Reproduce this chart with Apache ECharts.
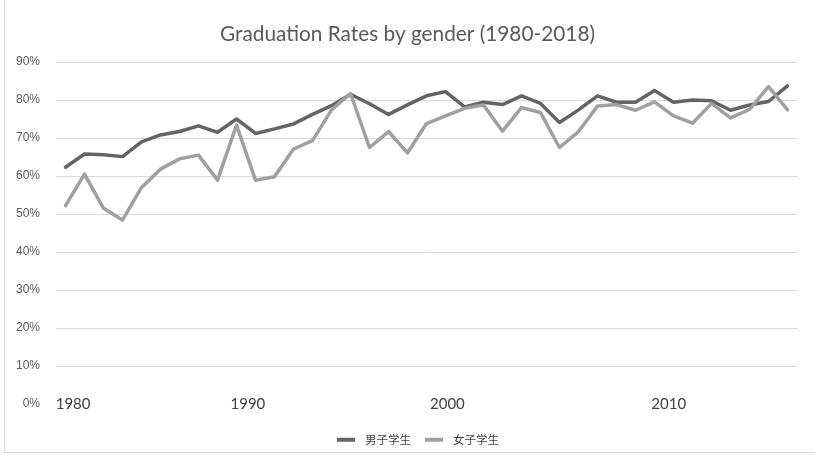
<!DOCTYPE html>
<html>
<head>
<meta charset="utf-8">
<script src="https://cdn.jsdelivr.net/npm/echarts@6/dist/echarts.min.js"></script>
<style>
  html, body { margin: 0; padding: 0; background: #ffffff; }
  #wrap { position: relative; width: 815px; height: 457px; }
  #chart { position: absolute; left: 0; top: 0; width: 815px; height: 457px; }
  #frame { position: absolute; left: 4px; top: -2px; width: 820px; height: 454px;
           border-left: 1px solid #d9d9d9; border-bottom: 1px solid #d9d9d9; pointer-events: none; }
</style>
</head>
<body>
<div id="wrap">
  <div id="chart"></div>
  <div id="frame"></div>
</div>
<script>
// ---- data ----
const years = [];
for (let y = 1980; y <= 2018; y++) years.push(String(y));

const maleRates = [
  62.3, 65.8, 65.6, 65.1, 69.0, 70.8, 71.7, 73.2, 71.5, 75.0,
  71.2, 72.4, 73.7, 76.2, 78.5, 81.5, 79.0, 76.2, 78.7, 81.1,
  82.2, 78.2, 79.4, 78.8, 81.1, 79.1, 74.1, 77.4, 81.1, 79.4,
  79.4, 82.5, 79.4, 80.0, 79.8, 77.3, 78.7, 79.6, 83.7
];
const femaleRates = [
  52.2, 60.5, 51.5, 48.4, 57.0, 61.8, 64.5, 65.5, 58.9, 73.4,
  58.9, 59.8, 67.1, 69.3, 77.4, 81.7, 67.5, 71.7, 66.1, 73.8,
  75.8, 77.8, 78.7, 71.8, 78.0, 76.7, 67.5, 71.7, 78.4, 78.8,
  77.3, 79.5, 75.8, 73.9, 79.1, 75.3, 77.5, 83.5, 77.4
];
const seriesNames = ['男子学生', '女子学生'];
const yTicks = [0, 10, 20, 30, 40, 50, 60, 70, 80, 90];
const xTickLabels = ['1980', '1990', '2000', '2010'];
// where the reference prints its decade labels along the year scale
const xLabelAnchors = [1980.4, 1989.6, 2000.1, 2011.75];

const chart = echarts.init(document.getElementById('chart'), null, { renderer: 'canvas' });

chart.setOption({
  backgroundColor: '#ffffff',
  animation: false,
  title: {
    text: 'Graduation Rates by gender (1980-2018)',
    left: 'center',
    top: 19,
    textStyle: { fontFamily: 'Lato', fontSize: 20.8, fontWeight: 'normal', color: '#595959' }
  },
  legend: {
    data: seriesNames,
    left: 332,
    top: 429,
    icon: 'rect',
    itemWidth: 18,
    itemHeight: 4,
    itemGap: 14,
    textStyle: { fontFamily: 'Noto Sans CJK SC', fontSize: 11.5, color: '#404040', padding: [0, 0, 0, 5] }
  },
  grid: { left: 56, right: 18, top: 62, bottom: 53, containLabel: false },
  xAxis: [
    {
      type: 'category',
      data: years,
      boundaryGap: true,
      axisLine: { show: false },
      axisTick: { show: false },
      axisLabel: { show: false },
      splitLine: { show: false }
    },
    {
      type: 'value',
      position: 'bottom',
      min: 1979.5,
      max: 2018.5,
      axisLine: { show: false },
      axisTick: { show: false },
      splitLine: { show: false },
      axisLabel: {
        customValues: xLabelAnchors,
        margin: 0,
        verticalAlign: 'middle',
        fontFamily: 'Lato',
        fontSize: 15,
        color: '#404040',
        formatter: function (v) {
          let best = 0, d = Infinity;
          xLabelAnchors.forEach(function (a, i) {
            if (Math.abs(a - v) < d) { d = Math.abs(a - v); best = i; }
          });
          return xTickLabels[best];
        }
      }
    }
  ],
  yAxis: {
    type: 'value',
    min: yTicks[0],
    max: yTicks[yTicks.length - 1],
    interval: 10,
    axisLine: { show: false },
    axisTick: { show: false },
    axisLabel: {
      margin: 16,
      fontFamily: 'Liberation Sans',
      fontSize: 12,
      color: '#595959',
      formatter: '{value}%'
    },
    splitLine: { show: true, showMinLine: false, lineStyle: { color: '#d9d9d9', width: 1 } }
  },
  series: [
    {
      name: seriesNames[0],
      type: 'line',
      xAxisIndex: 0,
      data: maleRates,
      symbol: 'none',
      smooth: false,
      itemStyle: { color: '#646464' },
      lineStyle: { color: '#646464', width: 3.5, cap: 'round', join: 'round' }
    },
    {
      name: seriesNames[1],
      type: 'line',
      xAxisIndex: 0,
      data: femaleRates,
      symbol: 'none',
      smooth: false,
      itemStyle: { color: '#a0a0a0' },
      lineStyle: { color: '#a0a0a0', width: 3.5, cap: 'round', join: 'round' }
    }
  ]
});
</script>
</body>
</html>
